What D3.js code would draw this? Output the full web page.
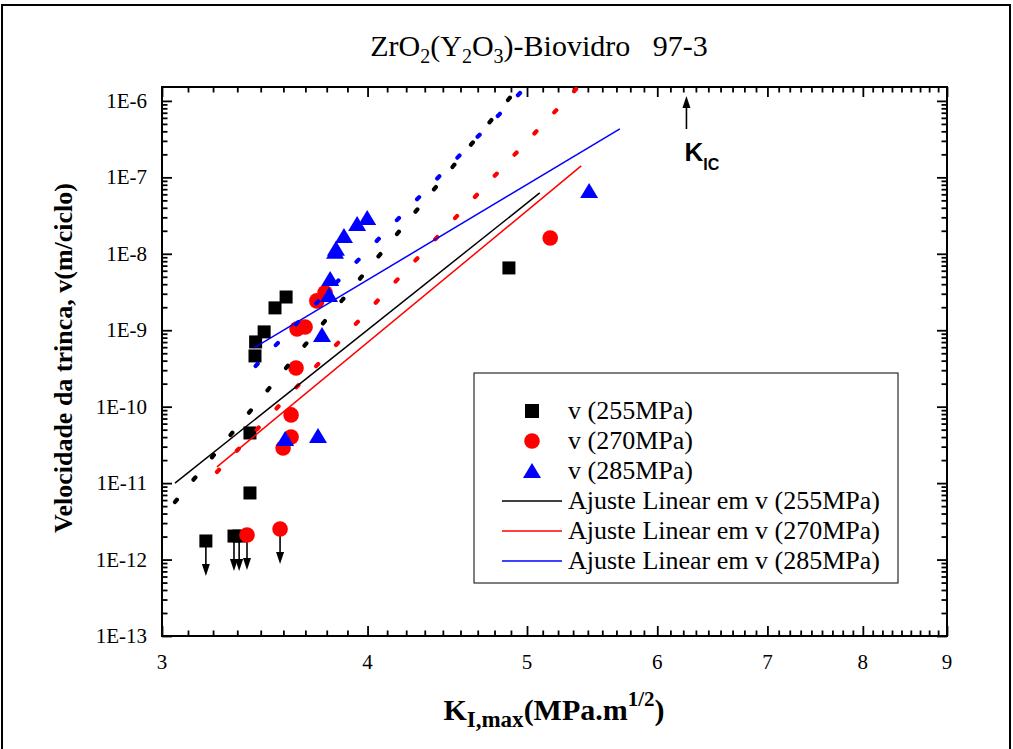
<!DOCTYPE html>
<html>
<head>
<meta charset="utf-8">
<script src="https://cdn.jsdelivr.net/npm/d3@7/dist/d3.min.js"></script>
<style>
  html, body { margin: 0; padding: 0; background: #fff; }
  svg { display: block; }
  text { font-family: "Liberation Serif", "Times New Roman", serif; }
</style>
</head>
<body>
<svg id="chart" width="1013" height="749"></svg>
<script>
// ---- data: crack growth rate v vs. K_I,max for three stress levels ----
const k255 = [3.19, 3.318, 3.342, 3.393, 3.393, 3.417, 3.42, 3.461, 3.514, 3.569, 4.875];
const v255 = [1.75e-12, 2.03e-12, 2.03e-12, 7.43e-12, 4.53e-11, 4.61e-10, 7.03e-10, 9.51e-10, 1.96e-9, 2.72e-9, 6.53e-9];
const lim255 = [0, 1, 2];           // indices of points that are upper bounds

const k270 = [3.379, 3.539, 3.554, 3.594, 3.594, 3.619, 3.624, 3.665, 3.726, 3.769, 5.165];
const v270 = [2.10e-12, 2.51e-12, 2.88e-11, 4.02e-11, 7.80e-11, 3.21e-10, 1.04e-9, 1.10e-9, 2.42e-9, 3.08e-9, 1.61e-8];
const lim270 = [0, 1];

const k285 = [3.564, 3.732, 3.753, 3.790, 3.796, 3.822, 3.827, 3.870, 3.942, 3.998, 5.454];
const v285 = [3.79e-11, 4.14e-11, 8.67e-10, 2.90e-9, 4.69e-9, 1.06e-8, 1.16e-8, 1.71e-8, 2.46e-8, 2.94e-8, 6.64e-8];

// linear fits (log-log), end points
const fitK255 = [3.055, 5.09];  const fitV255 = [1.0e-11, 6.25e-8];
const fitK270 = [3.24, 5.394];  const fitV270 = [1.63e-11, 1.41e-7];
const fitK285 = [3.412, 5.694]; const fitV285 = [5.86e-10, 4.31e-7];

// dotted trend lines, end points
const trendK255 = [3.055, 4.95]; const trendV255 = [5.66e-12, 1.58e-6];
const trendK270 = [3.24, 5.37];  const trendV270 = [1.40e-11, 1.52e-6];
const trendK285 = [3.42, 4.992]; const trendV285 = [3.41e-10, 1.52e-6];

const kIC = 6.25;

const xMajor = [3, 4, 5, 6, 7, 8, 9];
const yMajor = [1e-13, 1e-12, 1e-11, 1e-10, 1e-9, 1e-8, 1e-7, 1e-6];
const yLabels = ["1E-13", "1E-12", "1E-11", "1E-10", "1E-9", "1E-8", "1E-7", "1E-6"];

const legendLabels = ["v (255MPa)", "v (270MPa)", "v (285MPa)",
  "Ajuste Linear em v (255MPa)", "Ajuste Linear em v (270MPa)", "Ajuste Linear em v (285MPa)"];

// ---- layout ----
const svg = d3.select("#chart");
const L = 162, R = 947, T = 87, B = 636;
const x = d3.scaleLog().domain([3, 9]).range([L, R]);
const y = d3.scaleLog().domain([1e-13, 1.52e-6]).range([B, T]);

// outer frame
svg.append("rect").attr("x", 2).attr("y", 5).attr("width", 1008).attr("height", 800)
  .attr("fill", "none").attr("stroke", "#000").attr("stroke-width", 2);

// minor tick values
const xMinor = [];
for (let a = 3; a < 9; a++) for (let k = 1; k <= 8; k++) xMinor.push(a + k / 9);
const yMinor = [];
for (let d = -13; d <= -7; d++) for (let m = 2; m <= 9; m++) yMinor.push(m * Math.pow(10, d));

function styleAxis(g) {
  g.select(".domain").remove();
  g.selectAll(".tick line").attr("stroke", "#000").attr("stroke-width", 1.8);
}
const MAJ = 10, MIN = 5.5;
// bottom
svg.append("g").attr("transform", `translate(0,${B})`)
  .call(d3.axisBottom(x).tickValues(xMajor).tickSize(-MAJ).tickFormat(""))
  .call(styleAxis);
svg.append("g").attr("transform", `translate(0,${B})`)
  .call(d3.axisBottom(x).tickValues(xMinor).tickSize(-MIN).tickFormat(""))
  .call(styleAxis);
// top
svg.append("g").attr("transform", `translate(0,${T})`)
  .call(d3.axisTop(x).tickValues(xMajor).tickSize(-MAJ).tickFormat(""))
  .call(styleAxis);
svg.append("g").attr("transform", `translate(0,${T})`)
  .call(d3.axisTop(x).tickValues(xMinor).tickSize(-MIN).tickFormat(""))
  .call(styleAxis);
// left
svg.append("g").attr("transform", `translate(${L},0)`)
  .call(d3.axisLeft(y).tickValues(yMajor).tickSize(-MAJ).tickFormat(""))
  .call(styleAxis);
svg.append("g").attr("transform", `translate(${L},0)`)
  .call(d3.axisLeft(y).tickValues(yMinor).tickSize(-MIN).tickFormat(""))
  .call(styleAxis);
// right
svg.append("g").attr("transform", `translate(${R},0)`)
  .call(d3.axisRight(y).tickValues(yMajor).tickSize(-MAJ).tickFormat(""))
  .call(styleAxis);
svg.append("g").attr("transform", `translate(${R},0)`)
  .call(d3.axisRight(y).tickValues(yMinor).tickSize(-MIN).tickFormat(""))
  .call(styleAxis);

// tick labels
svg.append("g").selectAll("text").data(xMajor).join("text")
  .attr("x", d => x(d)).attr("y", B + 33).attr("text-anchor", "middle")
  .attr("font-size", 21).text(d => d);
svg.append("g").selectAll("text").data(yMajor).join("text")
  .attr("x", L - 15).attr("y", d => y(d) + 7).attr("text-anchor", "end")
  .attr("font-size", 21).text((d, i) => yLabels[i]);

// plot frame
svg.append("rect").attr("x", L).attr("y", T).attr("width", R - L).attr("height", B - T)
  .attr("fill", "none").attr("stroke", "#000").attr("stroke-width", 2);

// clip
svg.append("clipPath").attr("id", "plotclip").append("rect")
  .attr("x", L).attr("y", T).attr("width", R - L).attr("height", B - T);
const plot = svg.append("g").attr("clip-path", "url(#plotclip)");

// down arrows for upper-bound points
function arrows(ks, vs, idx) {
  idx.forEach(i => {
    const px = x(ks[i]), py = y(vs[i]);
    const tip = py + 35;
    plot.append("line").attr("x1", px).attr("y1", py).attr("x2", px).attr("y2", tip - 10)
      .attr("stroke", "#000").attr("stroke-width", 1.6);
    plot.append("path").attr("d", `M${px - 4},${tip - 12} L${px + 4},${tip - 12} L${px},${tip} Z`)
      .attr("fill", "#000");
  });
}
arrows(k255, v255, lim255);
arrows(k270, v270, lim270);

// markers
const sq = 13, rc = 7.8;
plot.append("g").selectAll("rect").data(k255.map((k, i) => [k, v255[i]])).join("rect")
  .attr("x", d => x(d[0]) - sq / 2).attr("y", d => y(d[1]) - sq / 2)
  .attr("width", sq).attr("height", sq).attr("fill", "#000");
plot.append("g").selectAll("circle").data(k270.map((k, i) => [k, v270[i]])).join("circle")
  .attr("cx", d => x(d[0])).attr("cy", d => y(d[1])).attr("r", rc).attr("fill", "#ff0000");
const tri = (cx, cy) => `M${cx - 9},${cy + 7} L${cx + 9},${cy + 7} L${cx},${cy - 8} Z`;
plot.append("g").selectAll("path").data(k285.map((k, i) => [k, v285[i]])).join("path")
  .attr("d", d => tri(x(d[0]), y(d[1]))).attr("fill", "#0000ff");

// dotted trend lines
const line = d3.line().x(d => x(d[0])).y(d => y(d[1]));
[[trendK255, trendV255, "#000"], [trendK270, trendV270, "#ff0000"], [trendK285, trendV285, "#0000ff"]]
  .forEach(([ks, vs, c]) => {
    plot.append("path").attr("d", line(ks.map((k, i) => [k, vs[i]])))
      .attr("fill", "none").attr("stroke", c).attr("stroke-width", 4.2)
      .attr("stroke-linecap", "round").attr("stroke-dasharray", "3 26");
  });

// linear fit lines
[[fitK255, fitV255, "#000"], [fitK270, fitV270, "#ff0000"], [fitK285, fitV285, "#0000ff"]]
  .forEach(([ks, vs, c]) => {
    plot.append("path").attr("d", line(ks.map((k, i) => [k, vs[i]])))
      .attr("fill", "none").attr("stroke", c).attr("stroke-width", 1.5);
  });

// K_IC marker
const kx = x(kIC);
svg.append("line").attr("x1", kx).attr("y1", T + 42).attr("x2", kx).attr("y2", T + 18)
  .attr("stroke", "#000").attr("stroke-width", 1.6);
svg.append("path").attr("d", `M${kx - 4},${T + 21} L${kx + 4},${T + 21} L${kx},${T + 9} Z`).attr("fill", "#000");
const kt = svg.append("text").attr("x", kx - 2).attr("y", T + 74)
  .attr("font-weight", "bold").attr("font-size", 26)
  .style("font-family", "'Liberation Sans', Arial, sans-serif");
kt.append("tspan").text("K");
kt.append("tspan").attr("font-size", 16).attr("dy", 9).text("IC");

// legend
const lg = svg.append("g");
lg.append("rect").attr("x", 474).attr("y", 373).attr("width", 424).attr("height", 210)
  .attr("fill", "#fff").attr("stroke", "#000").attr("stroke-width", 1);
const rows = [411, 441, 471, 501, 531, 561];
lg.append("rect").attr("x", 532 - 7).attr("y", rows[0] - 7).attr("width", 14).attr("height", 14).attr("fill", "#000");
lg.append("circle").attr("cx", 532).attr("cy", rows[1]).attr("r", 7.8).attr("fill", "#ff0000");
lg.append("path").attr("d", tri(532, rows[2])).attr("fill", "#0000ff");
["#000", "#ff0000", "#0000ff"].forEach((c, i) => {
  lg.append("line").attr("x1", 502).attr("x2", 562).attr("y1", rows[3 + i]).attr("y2", rows[3 + i])
    .attr("stroke", c).attr("stroke-width", 1.5);
});
lg.selectAll("text.lab").data(legendLabels).join("text").attr("class", "lab")
  .attr("x", 568).attr("y", (d, i) => rows[i] + 8).attr("font-size", 26).text(d => d);

// title
const title = svg.append("text").attr("x", 539).attr("y", 56).attr("text-anchor", "middle")
  .attr("font-size", 30).style("white-space", "pre");
title.append("tspan").text("ZrO");
title.append("tspan").attr("font-size", 20).attr("dy", 7).text("2");
title.append("tspan").attr("dy", -7).text("(Y");
title.append("tspan").attr("font-size", 20).attr("dy", 7).text("2");
title.append("tspan").attr("dy", -7).text("O");
title.append("tspan").attr("font-size", 20).attr("dy", 7).text("3");
title.append("tspan").attr("dy", -7).text(")-Biovidro   97-3");

// axis titles
const xt = svg.append("text").attr("x", 554).attr("y", 720).attr("text-anchor", "middle")
  .attr("font-size", 30).attr("font-weight", "bold");
xt.append("tspan").text("K");
xt.append("tspan").attr("font-size", 23).attr("dy", 7).text("I,max");
xt.append("tspan").attr("dy", -7).text("(MPa.m");
xt.append("tspan").attr("font-size", 21).attr("dy", -14).text("1/2");
xt.append("tspan").attr("dy", 14).text(")");

svg.append("text").attr("transform", "translate(72,358) rotate(-90)")
  .attr("text-anchor", "middle").attr("font-size", 26).attr("font-weight", "bold")
  .text("Velocidade da trinca, v(m/ciclo)");
</script>
</body>
</html>
